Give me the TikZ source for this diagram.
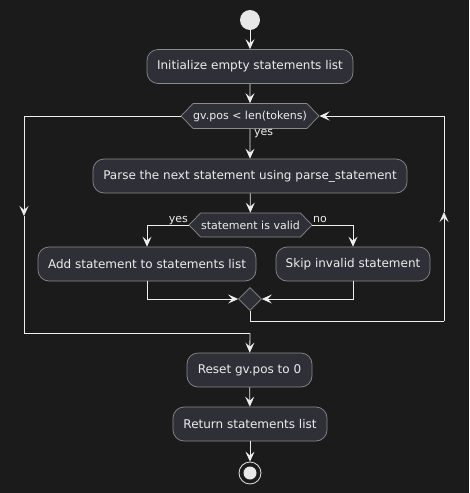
\documentclass[tikz,border=0pt]{standalone}
\usepackage{fontspec}
\setmainfont{DejaVu Sans}
\usepackage{xcolor}
\usepackage{tikz}
\usetikzlibrary{arrows.meta, shapes.geometric, shapes.symbols}

\definecolor{bgdark}{HTML}{1B1B1B}
\definecolor{boxfill}{HTML}{2F2F37}
\definecolor{boxline}{HTML}{8A8A8A}
\definecolor{wire}{HTML}{EEEEEE}
\definecolor{txt}{HTML}{EDEDED}

\begin{document}
\begin{tikzpicture}[
    x=1pt, y=-1pt,
    activity/.style={rectangle, rounded corners=11pt, draw=boxline, fill=boxfill, line width=0.7pt,
        minimum height=34pt, inner sep=0pt, text=txt, font=\fontsize{12}{14}\selectfont},
    cond/.style={signal, signal to=west and east, signal pointer angle=92, draw=boxline, fill=boxfill,
        line width=0.7pt, inner sep=0pt, text=txt, font=\fontsize{11}{13}\selectfont},
    merge/.style={diamond, draw=boxline, fill=boxfill, line width=0.7pt, inner sep=0pt,
        minimum width=23pt, minimum height=23pt},
    guard/.style={text=txt, inner sep=0pt, font=\fontsize{11}{13}\selectfont},
    flow/.style={-{Stealth[length=10pt, width=9pt, inset=4pt]}, draw=wire, line width=0.8pt},
    wireline/.style={draw=wire, line width=0.8pt}
]

% Background and page size
\fill[bgdark] (0,0) rectangle (469,493);
\useasboundingbox (0,0) rectangle (469,493);

%==============================================================================
% Start and initialisation
%==============================================================================
\node[circle, fill=txt!95!gray, minimum size=20pt, inner sep=0pt] (start) at (250,20) {};

\node[activity, minimum width=206pt] (init) at (250,66.5) {Initialize empty statements list};

\draw[flow] (start) -- (init);

%==============================================================================
% While loop
%==============================================================================
\node[cond, minimum width=138pt, minimum height=25pt] (loop) at (250,116) {gv.pos < len(tokens)};

\draw[flow] (init) -- (loop);

\node[activity, minimum width=314pt] (parse) at (250,176) {Parse the next statement using parse\_statement};

\draw[flow] (loop) -- (parse);
\node[guard, anchor=west] (loopyes) at (254,134) {yes};

%==============================================================================
% Validity check
%==============================================================================
\node[cond, minimum width=123pt, minimum height=24pt] (valid) at (250.5,225) {statement is valid};

\draw[flow] (parse) -- (valid);

\node[activity, minimum width=218pt] (add) at (147,264) {Add statement to statements list};
\node[activity, minimum width=154pt] (skip) at (353,264) {Skip invalid statement};

\node[guard, anchor=base east] (validyes) at (188,222) {yes};
\node[guard, anchor=base west] (validno) at (313,222) {no};

\draw[flow] (valid.west) -| (add.north);
\draw[flow] (valid.east) -| (skip.north);

% Merge point
\node[merge] (join) at (250,299) {};

\draw[flow] (add.south) |- (join.west);
\draw[flow] (skip.south) |- (join.east);

%==============================================================================
% Loop back and exit
%==============================================================================
\coordinate (backlow) at (444,321);
\coordinate (backmid) at (444,212);
\coordinate (exitmid) at (24,216);
\coordinate (exitlow) at (24,333);
\coordinate (exitjoin) at (250,333);

\draw[wireline] (join.south) |- (backlow);
\draw[flow] (backlow) -- (backmid);
\draw[flow] (backmid) |- (loop.east);

\draw[flow] (loop.west) -| (exitmid);
\draw[wireline] (exitmid) -- (exitlow) -- (exitjoin);

%==============================================================================
% Finish
%==============================================================================
\node[activity, minimum width=125pt] (reset) at (249.5,370) {Reset gv.pos to 0};
\node[activity, minimum width=154pt] (ret) at (250,424) {Return statements list};

\node[circle, draw=txt!90!gray, line width=0.8pt, minimum size=22pt, inner sep=0pt] (stop) at (250,473) {};
\fill[txt!95!gray] (stop.center) circle (6.5pt);

\draw[flow] (exitjoin) -- (reset);
\draw[flow] (reset) -- (ret);
\draw[flow] (ret) -- (stop);

\end{tikzpicture}
\end{document}
